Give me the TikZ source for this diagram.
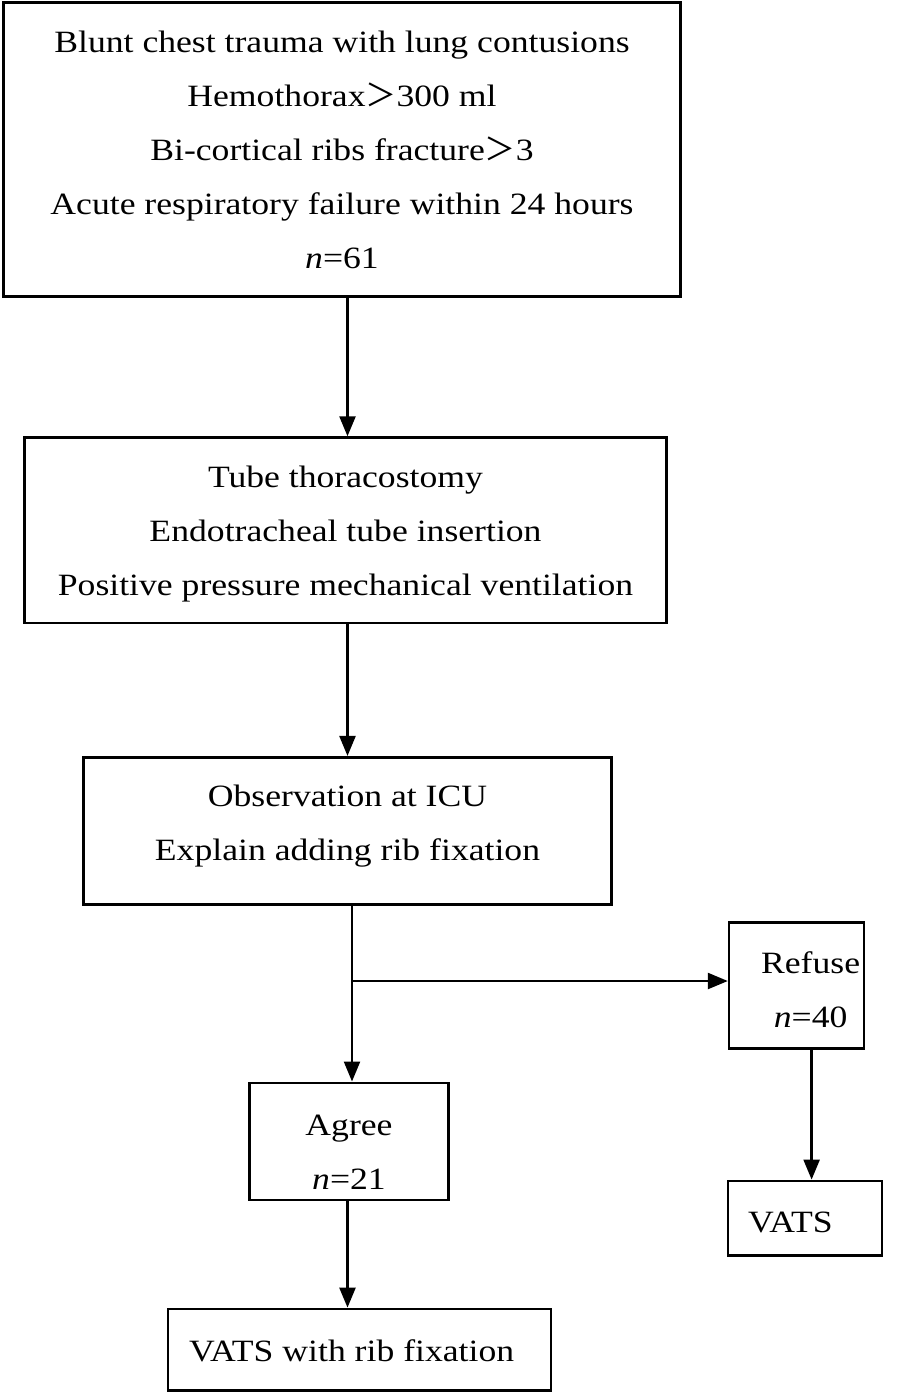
\documentclass[tikz,border=0pt]{standalone}
\usepackage{fontspec}
\setmainfont{Liberation Serif}[FakeStretch=1.15]
\newfontfamily\cjk{Noto Sans CJK SC}
\usetikzlibrary{positioning,arrows.meta}
\newcommand{\fwgt}{{\cjk ＞}}
\newcommand{\topstrut}[1]{\rule{0pt}{#1}}
\newcommand{\botstrut}[1]{\rule[-#1]{0pt}{#1}}

\begin{document}
\begin{tikzpicture}[
    x=1pt, y=-1pt,
    every node/.style={align=center, font=\fontsize{31}{54}\selectfont},
    box/.style={rectangle, draw, line width=2.6pt, inner sep=0pt},
    arrow/.style={-{Triangle[length=20pt,width=16pt]}, line width=2.4pt}
]
\useasboundingbox (0,0) rectangle (897,1394);

% Inclusion criteria
\node[box, minimum width=677pt, minimum height=294pt] (criteria) at (342,149.5) {Blunt chest trauma with lung contusions\\Hemothorax\fwgt300 ml\\Bi-cortical ribs fracture\fwgt3\\Acute respiratory failure within 24 hours\\\textit{n}=61};

% Initial management
\node[box, minimum width=642pt, minimum height=185.5pt, below=138.5pt of criteria, xshift=3.5pt] (management) {\topstrut{29pt}Tube thoracostomy\\Endotracheal tube insertion\\Positive pressure mechanical ventilation};

% ICU
\node[box, minimum width=528pt, minimum height=147pt, below=131.5pt of management, xshift=2pt] (icu) {Observation at ICU\\Explain adding rib fixation\botstrut{16pt}};

% Decision
\node[box, minimum width=199pt, minimum height=117pt, below=176pt of icu, xshift=1.5pt] (agree) {\topstrut{42.5pt}Agree\\\textit{n}=21};
\node[box, minimum width=135pt, minimum height=126pt, anchor=north west] (refuse) at ([xshift=115pt, yshift=-15.5pt]icu.south east) {\hspace*{28pt}\topstrut{31pt}Refuse\\\hspace*{28pt}\textit{n}=40};

% Operations
\node[box, minimum height=81.5pt, below=106.5pt of agree, xshift=10.5pt, text width=341pt, inner xsep=21pt, align=flush left] (fixation) {\topstrut{25pt}VATS with rib fixation};
\node[box, minimum height=74.5pt, below=130pt of refuse, xshift=8.5pt, text width=114pt, inner xsep=20pt, align=flush left] (vats) {\topstrut{28.5pt}VATS};

% Arrows
\coordinate[below=75.5pt of icu.south, xshift=4.5pt] (split);
\draw[arrow] (criteria.south -| icu) -- (management.north -| icu);
\draw[arrow] (management.south -| icu) -- (icu.north);
\draw[arrow] ([xshift=4.5pt]icu.south) -- (split |- agree.north);
\draw[arrow] (split) -- (split -| refuse.west);
\draw[arrow] ([xshift=15pt]refuse.south) -- ([xshift=15pt]refuse.south |- vats.north);
\draw[arrow] (agree.south -| icu) -- (icu |- fixation.north);

\end{tikzpicture}
\end{document}
